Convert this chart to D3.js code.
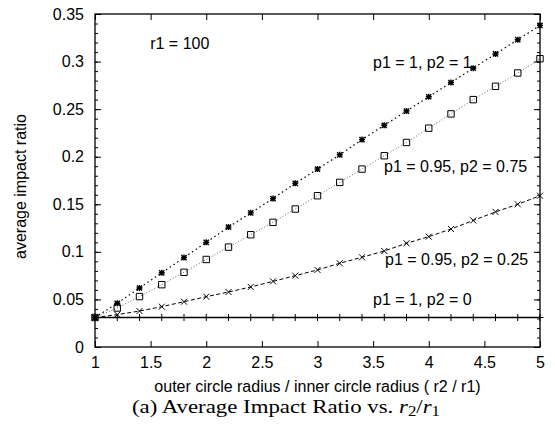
<!DOCTYPE html>
<html>
<head>
<meta charset="utf-8">
<script src="https://cdn.jsdelivr.net/npm/d3@7"></script>
<style>
  body { margin: 0; background: #fff; }
  svg { display: block; }
  .tick text { font-family: "Liberation Sans", Arial, sans-serif; font-size: 16px; fill: #000; }
  .lbl { font-family: "Liberation Sans", Arial, sans-serif; font-size: 16px; fill: #000; }
</style>
</head>
<body>
<div id="chart"></div>
<script>
// x values of the sampled points (outer / inner radius)
var ratios = [1, 1.2, 1.4, 1.6, 1.8, 2, 2.2, 2.4, 2.6, 2.8, 3, 3.2, 3.4, 3.6, 3.8, 4, 4.2, 4.4, 4.6, 4.8, 5];

// series values
var p1p2_1_1 = [0.031, 0.046, 0.062, 0.078, 0.094, 0.110, 0.126, 0.141, 0.156, 0.172, 0.187,
                0.202, 0.218, 0.233, 0.248, 0.263, 0.278, 0.293, 0.308, 0.323, 0.338];
var p1p2_095_075 = [0.031, 0.041, 0.053, 0.0655, 0.0785, 0.092, 0.105, 0.118, 0.131, 0.145, 0.159,
                    0.173, 0.187, 0.201, 0.215, 0.230, 0.245, 0.260, 0.274, 0.288, 0.303];
var p1p2_095_025 = [0.031, 0.034, 0.0378, 0.0424, 0.0476, 0.0529, 0.0578, 0.0631, 0.069, 0.075, 0.081,
                    0.088, 0.0943, 0.1009, 0.109, 0.116, 0.124, 0.133, 0.142, 0.150, 0.159];
var p1p2_1_0 = [0.031, 0.031, 0.031, 0.031, 0.031, 0.031, 0.031, 0.031, 0.031, 0.031, 0.031,
                0.031, 0.031, 0.031, 0.031, 0.031, 0.031, 0.031, 0.031, 0.031, 0.031];

var xTicks = [1, 1.5, 2, 2.5, 3, 3.5, 4, 4.5, 5];
var xTickLabels = ["1", "1.5", "2", "2.5", "3", "3.5", "4", "4.5", "5"];
var yTicks = [0, 0.05, 0.1, 0.15, 0.2, 0.25, 0.3, 0.35];
var yTickLabels = ["0", "0.05", "0.1", "0.15", "0.2", "0.25", "0.3", "0.35"];
var yMinorTicks = d3.range(0, 36).map(function(i) { return i / 100; });

var svgWidth = 555, svgHeight = 429;
var margin = { top: 14, right: 15, bottom: 82, left: 95 };
var width = svgWidth - margin.left - margin.right;
var height = svgHeight - margin.top - margin.bottom;

var svg = d3.select("#chart").append("svg")
    .attr("width", svgWidth)
    .attr("height", svgHeight);

var chartGroup = svg.append("g")
    .attr("transform", `translate(${margin.left}, ${margin.top})`);

var x = d3.scaleLinear().domain([1, 5]).range([0, width]);
var y = d3.scaleLinear().domain([0, 0.35]).range([height, 0]);

function fmt(arr, ticks) {
    return function(d) { return arr[ticks.indexOf(d)]; };
}

// axes: ticks point inward, mirrored on all four sides
chartGroup.append("g")
    .attr("transform", `translate(0, ${height})`)
    .call(d3.axisBottom(x).tickValues(xTicks).tickFormat(fmt(xTickLabels, xTicks)).tickSize(-6).tickPadding(10));
chartGroup.append("g")
    .call(d3.axisTop(x).tickValues(xTicks).tickFormat("").tickSize(-6));
chartGroup.append("g")
    .call(d3.axisLeft(y).tickValues(yTicks).tickFormat(fmt(yTickLabels, yTicks)).tickSize(-6).tickPadding(11));
chartGroup.append("g")
    .call(d3.axisLeft(y).tickValues(yMinorTicks).tickFormat("").tickSize(-3));
chartGroup.append("g")
    .attr("transform", `translate(${width}, 0)`)
    .call(d3.axisRight(y).tickValues(yTicks).tickFormat("").tickSize(-6));
chartGroup.append("g")
    .attr("transform", `translate(${width}, 0)`)
    .call(d3.axisRight(y).tickValues(yMinorTicks).tickFormat("").tickSize(-3));

chartGroup.selectAll(".domain").remove();
chartGroup.selectAll(".tick line").attr("stroke", "#000").attr("stroke-width", 1);

// frame
chartGroup.append("rect")
    .attr("x", 0).attr("y", 0)
    .attr("width", width).attr("height", height)
    .attr("fill", "none")
    .attr("stroke", "#000")
    .attr("stroke-width", 1.3);

// marker shapes (gnuplot style)
var markers = {
    star: "M-3,0H3M0,-3V3M-2.6,-2.6L2.6,2.6M-2.6,2.6L2.6,-2.6",
    square: "M-3.2,-3.2H3.2V3.2H-3.2Z",
    cross: "M-3,-3L3,3M-3,3L3,-3",
    plus: "M-3.5,0H3.5M0,-3.5V3.5"
};

var series = [
    { vals: p1p2_1_0, stroke: "#000", width: 1.3, dash: null, marker: "plus", mw: 1 },
    { vals: p1p2_095_025, stroke: "#000", width: 1, dash: "4,2.5", marker: "cross", mw: 1 },
    { vals: p1p2_095_075, stroke: "#666", width: 1, dash: "1,2", marker: "square", mw: 1 },
    { vals: p1p2_1_1, stroke: "#000", width: 1.2, dash: "1.5,3", marker: "star", mw: 1.4 }
];

var line = d3.line()
    .x(function(d, i) { return x(ratios[i]); })
    .y(function(d) { return y(d); });

series.forEach(function(s) {
    chartGroup.append("path")
        .datum(s.vals)
        .attr("d", line)
        .attr("fill", "none")
        .attr("stroke", s.stroke)
        .attr("stroke-width", s.width)
        .attr("stroke-dasharray", s.dash);

    chartGroup.append("g").selectAll("path")
        .data(s.vals)
        .enter()
        .append("path")
        .attr("transform", function(d, i) { return `translate(${x(ratios[i])}, ${y(d)})`; })
        .attr("d", markers[s.marker])
        .attr("fill", "none")
        .attr("stroke", "#000")
        .attr("stroke-width", s.mw);
});

// in-plot labels
var notes = [
    { text: "r1 = 100", xv: 1.496, yv: 0.313 },
    { text: "p1 = 1, p2 = 1", xv: 3.499, yv: 0.293 },
    { text: "p1 = 0.95, p2 = 0.75", xv: 3.598, yv: 0.184 },
    { text: "p1 = 0.95, p2 = 0.25", xv: 3.607, yv: 0.086 },
    { text: "p1 = 1, p2 = 0", xv: 3.499, yv: 0.044 }
];
chartGroup.selectAll(".note")
    .data(notes)
    .enter()
    .append("text")
    .attr("class", "lbl note")
    .attr("x", d => x(d.xv))
    .attr("y", d => y(d.yv))
    .text(d => d.text);

// axis titles
chartGroup.append("text")
    .attr("class", "lbl")
    .attr("text-anchor", "middle")
    .attr("x", width / 2)
    .attr("y", height + 45)
    .text("outer circle radius / inner circle radius ( r2 / r1)");

chartGroup.append("text")
    .attr("class", "lbl")
    .attr("text-anchor", "middle")
    .attr("transform", `translate(${26 - margin.left}, ${height / 2 + 6}) rotate(-90)`)
    .text("average impact ratio");

// caption
var cap = svg.append("text")
    .attr("x", 132)
    .attr("y", 413)
    .attr("textLength", 308)
    .attr("lengthAdjust", "spacingAndGlyphs")
    .attr("font-family", "'Liberation Serif', 'Times New Roman', serif")
    .attr("font-size", 19)
    .attr("fill", "#000");
cap.append("tspan").text("(a) Average Impact Ratio vs. ");
cap.append("tspan").attr("font-style", "italic").text("r");
cap.append("tspan").attr("font-size", 14).attr("dy", 3).text("2");
cap.append("tspan").attr("dy", -3).text("/");
cap.append("tspan").attr("font-style", "italic").text("r");
cap.append("tspan").attr("font-size", 14).attr("dy", 3).text("1");
</script>
</body>
</html>
